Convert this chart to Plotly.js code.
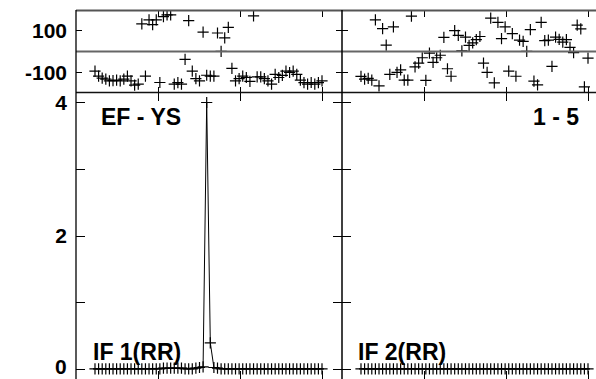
<!DOCTYPE html>
<html>
<head>
<meta charset="utf-8">
<script src="https://cdn.plot.ly/plotly-3.0.1.min.js"></script>
<style>
html,body{margin:0;padding:0;background:#fff;overflow:hidden;}
#chart{width:596px;height:379px;}
</style>
</head>
<body>
<div id="chart"></div>
<script>
// ---- data ----
const channels = [1,2,3,4,5,6,7,8,9,10,11,12,13,14,15,16,17,18,19,20,21,22,23,24,25,26,27,28,29,30,31,32,
                  33,34,35,36,37,38,39,40,41,42,43,44,45,46,47,48,49,50,51,52,53,54,55,56,57,58,59,60,61,62,63,64];

const phaseIF1 = [-94,-118,-128,-133,-141,-140,-138,-141,-133,-118,-141,-162,-157,133,-118,152,
                  129,152,-149,168,176,176,-157,-150,-157,-38,148,-94,-130,-141,93,-114,
                  -118,-118,89,1,65,116,-81,-141,-130,-118,-125,-144,171,-122,-122,-130,
                  -141,-157,-110,-125,-115,-94,-101,-94,-110,-138,-150,-157,-149,-157,-150,-141];

const ampIF1 = [0.01,0.01,0.01,0.01,0.01,0.01,0.01,0.01,0.01,0.01,0.01,0.01,0.01,0.01,0.01,0.01,
                0.01,0.01,0.01,0.02,0.02,0.02,0.02,0.02,0.02,0.01,0.01,0.01,0.02,0.03,0.04,4.0,
                0.4,0.03,0.02,0.01,0.01,0.01,0.01,0.01,0.01,0.01,0.01,0.01,0.01,0.01,0.01,0.01,
                0.01,0.01,0.01,0.01,0.01,0.01,0.01,0.01,0.01,0.01,0.01,0.01,0.01,0.01,0.01,0.01];

const phaseIF2 = [-120,-133,-129,-138,152,-165,110,31,-110,118,-100,-88,-138,-138,170,-74,
                  -56,-30,-139,-8,-52,-30,-18,68,-83,-119,100,77,3,69,29,41,
                  57,72,-56,-100,160,-151,140,62,118,-94,86,-119,55,49,1,105,
                  -142,-160,140,52,55,-71,69,58,45,57,20,-5,127,109,-170,-32];

const ampIF2 = [0.01,0.01,0.01,0.01,0.01,0.01,0.01,0.01,0.01,0.01,0.01,0.01,0.01,0.01,0.01,0.01,
                0.01,0.01,0.01,0.01,0.01,0.01,0.01,0.01,0.01,0.01,0.01,0.01,0.01,0.01,0.01,0.01,
                0.01,0.01,0.01,0.01,0.01,0.01,0.01,0.01,0.01,0.01,0.01,0.01,0.01,0.01,0.01,0.01,
                0.01,0.01,0.01,0.01,0.01,0.01,0.01,0.01,0.01,0.01,0.01,0.01,0.01,0.01,0.01,0.01];

const phaseTickVals = [-100, 100];
const phaseTickText = ['-100', '100'];
const ampTickVals = [0, 1, 2, 3, 4];
const ampTickText = ['', '', '2', '', '4'];   // the "0" label is drawn as an annotation so it stays inside the page
const ampZeroLabel = '0';
const chanTickVals = [18.5, 41.25, 64];

const baselineLabel = 'EF - YS';
const sourceLabel = '1 - 5';
const ifLabels = ['IF 1(RR)', 'IF 2(RR)'];

// ---- layout helpers ----
const W = 596, H = 379;
const px = v => v / W;
const py = v => 1 - v / H;
const FONT = 'Liberation Sans, Arial, Helvetica, sans-serif';

const cross = {symbol: 'cross-thin-open', size: 8, color: '#000', line: {color: '#000', width: 1.2}};

const traces = [
  {x: channels, y: phaseIF1, xaxis: 'x3', yaxis: 'y', mode: 'markers', marker: cross, type: 'scatter'},
  {x: channels, y: ampIF1, xaxis: 'x', yaxis: 'y2', mode: 'lines+markers', marker: cross,
   line: {color: '#000', width: 1}, type: 'scatter'},
  {x: channels, y: phaseIF2, xaxis: 'x4', yaxis: 'y3', mode: 'markers', marker: cross, type: 'scatter'},
  {x: channels, y: ampIF2, xaxis: 'x2', yaxis: 'y4', mode: 'lines+markers', marker: cross,
   line: {color: '#000', width: 1}, type: 'scatter'}
];

const xLeft = [-4.27, 69.55];
const xRight = [-4.27, -4.27 + (69.55 + 4.27) * 254 / 266];
const phaseRange = [-197, 197];
const ampRange = [-0.142, 4.15];

const domL = [px(76), px(342)];
const domR = [px(342), 1];
const domPhase = [py(92.5), py(10.5)];
const domAmp = [0, py(92.5)];

function xax(domain, range, anchor, ticklen) {
  return {domain, range, anchor, ticks: 'inside', tickvals: chanTickVals, ticklen, tickwidth: 1,
          tickcolor: '#000', mirror: 'ticks', showticklabels: false, showgrid: false,
          zeroline: false, showline: false, fixedrange: true};
}
function yax(domain, range, anchor, vals, text, ticklen, mirror, labels) {
  return {domain, range, anchor, ticks: 'inside', tickvals: vals, ticktext: text, ticklen,
          tickwidth: 1, tickcolor: '#000', mirror: mirror ? 'ticks' : false,
          showticklabels: labels, ticklabelstandoff: 8, ticklabeloverflow: 'allow',
          tickfont: {family: FONT, size: 21, color: '#000', weight: 'bold'},
          showgrid: false, zeroline: false, showline: false, fixedrange: true};
}

const lineShape = (x0, y0, x1, y1, color, width) => ({
  type: 'line', xref: 'paper', yref: 'paper', x0: px(x0), y0: py(y0), x1: px(x1), y1: py(y1),
  line: {color, width}, layer: 'above'
});

const annFont = {family: FONT, size: 23, color: '#000', weight: 'bold'};
const tickFont = {family: FONT, size: 21, color: '#000', weight: 'bold'};

const layout = {
  width: W, height: H,
  margin: {l: 0, r: 0, t: 0, b: 0, pad: 0},
  paper_bgcolor: '#fff', plot_bgcolor: '#fff',
  showlegend: false,
  xaxis: xax(domL, xLeft, 'y2', 8),
  xaxis2: xax(domR, xRight, 'y4', 8),
  xaxis3: xax(domL, xLeft, 'y', 6),
  xaxis4: xax(domR, xRight, 'y3', 6),
  yaxis: yax(domPhase, phaseRange, 'x3', phaseTickVals, phaseTickText, 6, true, true),
  yaxis2: yax(domAmp, ampRange, 'x', ampTickVals, ampTickText, 9, true, true),
  yaxis3: yax(domPhase, phaseRange, 'x4', phaseTickVals, phaseTickText, 6, false, false),
  yaxis4: yax(domAmp, ampRange, 'x2', ampTickVals, ampTickText, 9, false, false),
  shapes: [
    lineShape(76, 10.5, 596, 10.5, '#555', 2),
    lineShape(76, 51.5, 596, 51.5, '#666', 2),
    lineShape(76, 92.5, 596, 92.5, '#111', 1.5),
    lineShape(76, 10, 76, 379, '#000', 1.3),
    lineShape(342, 10, 342, 379, '#000', 1.5)
  ],
  annotations: [
    {text: ampZeroLabel, xref: 'paper', yref: 'paper', x: px(68), y: 0,
     xanchor: 'right', yanchor: 'bottom', borderpad: 0, showarrow: false, font: tickFont},
    {text: baselineLabel, xref: 'paper', yref: 'paper', x: px(99), y: py(116.5),
     xanchor: 'left', yanchor: 'middle', showarrow: false, font: annFont},
    {text: sourceLabel, xref: 'paper', yref: 'paper', x: px(581), y: py(116.5),
     xanchor: 'right', yanchor: 'middle', showarrow: false, font: annFont},
    {text: ifLabels[0], xref: 'paper', yref: 'paper', x: px(91), y: py(351.5),
     xanchor: 'left', yanchor: 'middle', showarrow: false, font: annFont},
    {text: ifLabels[1], xref: 'paper', yref: 'paper', x: px(356), y: py(351.5),
     xanchor: 'left', yanchor: 'middle', showarrow: false, font: annFont}
  ],
  hovermode: false
};

Plotly.newPlot('chart', traces, layout, {staticPlot: true, displayModeBar: false});
</script>
</body>
</html>
